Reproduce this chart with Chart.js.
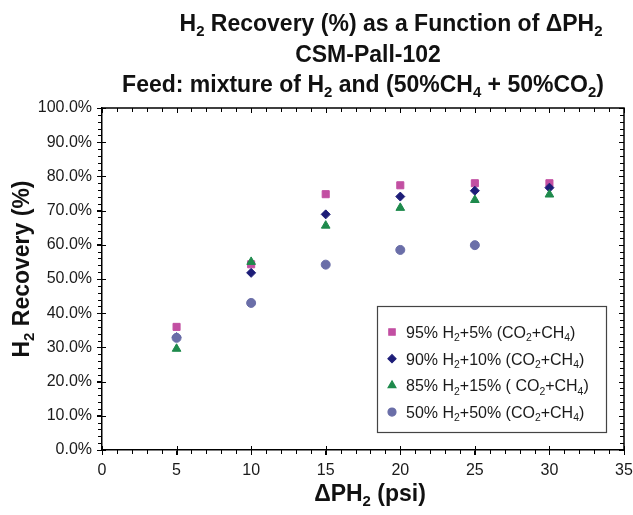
<!DOCTYPE html>
<html>
<head>
<meta charset="utf-8">
<script src="https://cdn.jsdelivr.net/npm/chart.js@4.4.1/dist/chart.umd.min.js"></script>
<style>
  html, body { margin: 0; padding: 0; background: #fff; }
  #wrap { width: 633px; height: 515px; position: relative; }
</style>
</head>
<body>
<div id="wrap"><canvas id="recoveryChart"></canvas></div>
<script>
// Data (x = delta P H2 in psi, y = H2 recovery in %)
const pressure = [5, 10, 15, 20, 25, 30];
const rec95 = [36.0, 54.3, 74.8, 77.4, 78.0, 78.0];
const rec90 = [33.0, 51.8, 68.9, 74.1, 75.8, 76.7];
const rec85 = [29.6, 55.0, 65.6, 70.8, 73.1, 74.7];
const rec50 = [32.8, 43.0, 54.2, 58.5, 59.9, null];

// Labels ("_2" means subscript 2)
const seriesLabels = [
    '95% H_2+5% (CO_2+CH_4)',
    '90% H_2+10% (CO_2+CH_4)',
    '85% H_2+15% ( CO_2+CH_4)',
    '50% H_2+50% (CO_2+CH_4)'
];
const titleLines = [
    'H_2 Recovery (%) as a Function of ΔPH_2',
    'CSM-Pall-102',
    'Feed: mixture of H_2 and (50%CH_4 + 50%CO_2)'
];
const xTitle = 'ΔPH_2 (psi)';
const yTitle = 'H_2 Recovery (%)';

const FONT = '"Liberation Sans", Arial, sans-serif';
const styles = [
    { color: '#c24fa2', shape: 'rect', r: 5 },
    { color: '#1d1d78', shape: 'rectRot', r: 4.5 },
    { color: '#1e8a4c', shape: 'triangle', r: 5 },
    { color: '#6a6ea8', shape: 'circle', r: 4.5 }
];
const seriesValues = [rec95, rec90, rec85, rec50];

// split "H_2O" into [['H',false],['2',true],['O',false]]
function parseRich(str) {
    const out = [];
    const parts = str.split(/_(\d)/);
    parts.forEach((p, i) => {
        if (p !== '') out.push([p, i % 2 === 1]);
    });
    return out;
}

function richWidth(ctx, str, size, bold) {
    let w = 0;
    parseRich(str).forEach(([t, sub]) => {
        ctx.font = (bold ? 'bold ' : '') + (sub ? size * 0.65 : size) + 'px ' + FONT;
        w += ctx.measureText(t).width;
    });
    return w;
}

function drawRich(ctx, str, x, y, size, bold, align) {
    const w = richWidth(ctx, str, size, bold);
    let cx = align === 'center' ? x - w / 2 : x;
    ctx.textAlign = 'left';
    ctx.textBaseline = 'alphabetic';
    parseRich(str).forEach(([t, sub]) => {
        ctx.font = (bold ? 'bold ' : '') + (sub ? size * 0.65 : size) + 'px ' + FONT;
        ctx.fillText(t, cx, sub ? y + size * 0.2 : y);
        cx += ctx.measureText(t).width;
    });
}

// Titles, minor ticks, frame and legend
const decorPlugin = {
    id: 'decor',
    afterDraw(chart) {
        const ctx = chart.ctx;
        const area = chart.chartArea;
        const xs = chart.scales.x;
        const ys = chart.scales.y;
        ctx.save();
        ctx.fillStyle = '#111';

        // title
        drawRich(ctx, titleLines[0], 391, 31, 23, true, 'center');
        drawRich(ctx, titleLines[1], 368, 62, 23, true, 'center');
        drawRich(ctx, titleLines[2], 363, 92, 23, true, 'center');

        // axis titles
        drawRich(ctx, xTitle, 370, 501, 23, true, 'center');
        ctx.save();
        ctx.translate(29, (area.top + area.bottom) / 2 - 10);
        ctx.rotate(-Math.PI / 2);
        drawRich(ctx, yTitle, 0, 0, 23, true, 'center');
        ctx.restore();

        // frame on top and right
        ctx.strokeStyle = '#000';
        ctx.lineWidth = 1.5;
        ctx.beginPath();
        ctx.moveTo(area.left, area.top);
        ctx.lineTo(area.right, area.top);
        ctx.lineTo(area.right, area.bottom);
        ctx.stroke();

        // minor ticks
        ctx.lineWidth = 1;
        ctx.beginPath();
        for (let v = 0; v <= 35; v += 1) {
            const px = Math.round(xs.getPixelForValue(v)) + 0.5;
            const len = v % 5 === 0 ? 5 : 4;
            ctx.moveTo(px, area.bottom);
            ctx.lineTo(px, area.bottom + len);
            ctx.moveTo(px, area.top);
            ctx.lineTo(px, area.top + len);
            if (v % 5 === 0) {
                ctx.moveTo(px, area.bottom);
                ctx.lineTo(px, area.bottom - 4);
            }
        }
        for (let v = 0; v <= 100; v += 2) {
            const py = Math.round(ys.getPixelForValue(v)) + 0.5;
            const len = v % 10 === 0 ? 5 : 4;
            ctx.moveTo(area.left - len, py);
            ctx.lineTo(area.left, py);
            ctx.moveTo(area.right, py);
            ctx.lineTo(area.right - len, py);
            if (v % 10 === 0) {
                ctx.moveTo(area.left, py);
                ctx.lineTo(area.left + 4, py);
            }
        }
        ctx.stroke();

        // legend
        const lx = 377, ly = 306, lw = 229, lh = 126;
        ctx.fillStyle = '#fff';
        ctx.fillRect(lx, ly, lw, lh);
        ctx.strokeStyle = '#444';
        ctx.lineWidth = 1.2;
        ctx.strokeRect(lx + 0.5, ly + 0.5, lw, lh);
        seriesLabels.forEach((lab, i) => {
            const cy = ly + 26 + i * 26.7;
            const st = styles[i];
            ctx.fillStyle = st.color;
            ctx.strokeStyle = st.color;
            Chart.helpers.drawPoint(ctx, { pointStyle: st.shape, radius: st.r - 0.5, borderWidth: 1 }, 392, cy);
            ctx.fillStyle = '#1a1a1a';
            drawRich(ctx, lab, 406, cy + 6, 16, false, 'left');
        });
        ctx.restore();
    }
};

const ctx = document.getElementById('recoveryChart').getContext('2d');

const recoveryChart = new Chart(ctx, {
    type: 'scatter',
    data: {
        datasets: seriesValues.map((vals, i) => ({
            label: seriesLabels[i].replace(/_/g, ''),
            data: pressure.map((p, j) => ({ x: p, y: vals[j] })).filter(d => d.y !== null),
            pointStyle: styles[i].shape,
            pointRadius: styles[i].r,
            pointHoverRadius: styles[i].r,
            backgroundColor: styles[i].color,
            borderColor: styles[i].color,
            borderWidth: 1,
            order: 3 - i
        }))
    },
    options: {
        responsive: true,
        maintainAspectRatio: false,
        animation: false,
        events: [],
        layout: { padding: { top: 108, right: 9, bottom: 0, left: 0 } },
        plugins: {
            legend: { display: false },
            title: { display: false },
            tooltip: { enabled: false }
        },
        scales: {
            x: {
                type: 'linear',
                min: 0,
                max: 35,
                ticks: {
                    stepSize: 5,
                    padding: 6,
                    color: '#1a1a1a',
                    font: { family: FONT, size: 16 }
                },
                grid: { drawOnChartArea: false, drawTicks: true, tickLength: 5, color: '#000' },
                border: { display: true, color: '#000', width: 1.5 },
                afterFit(scale) {
                    scale.height = 65;
                    scale.paddingLeft = 0;
                    scale.paddingRight = 0;
                }
            },
            y: {
                type: 'linear',
                min: 0,
                max: 100,
                ticks: {
                    stepSize: 10,
                    padding: 5,
                    color: '#1a1a1a',
                    font: { family: FONT, size: 16 },
                    callback: v => v.toFixed(1) + '%'
                },
                grid: { drawOnChartArea: false, drawTicks: true, tickLength: 5, color: '#000' },
                border: { display: true, color: '#000', width: 1.5 },
                afterFit(scale) {
                    scale.width = 102;
                    scale.paddingTop = 0;
                    scale.paddingBottom = 0;
                }
            }
        }
    },
    plugins: [decorPlugin]
});
</script>
</body>
</html>
